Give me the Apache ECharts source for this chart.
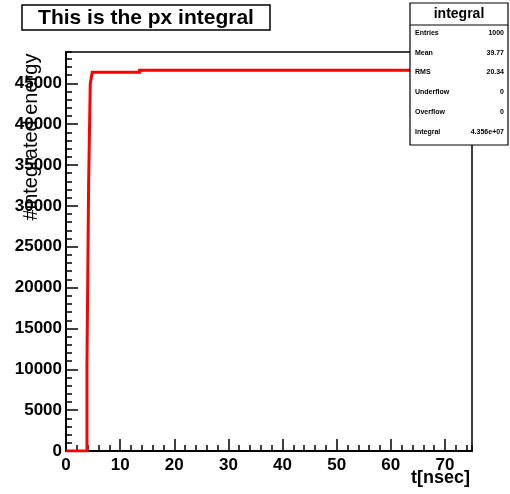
<!DOCTYPE html>
<html>
<head>
<meta charset="utf-8">
<script src="https://cdn.jsdelivr.net/npm/echarts@6/dist/echarts.min.js"></script>
<style>html,body{margin:0;padding:0;background:#fff;}#c{width:510px;height:494px;}</style>
</head>
<body>
<div id="c"></div>
<script>
// Histogram step edges (t in nsec) and integrated values
const edges = [0, 3.87, 4.18, 4.48, 4.84, 13.6, 75];
const values = [0, 10400, 32800, 44900, 46350, 46600, 46600];
const yTickLabels = [0, 5000, 10000, 15000, 20000, 25000, 30000, 35000, 40000, 45000];
const xTickLabels = [0, 10, 20, 30, 40, 50, 60, 70];
const statNames = ['Entries', 'Mean', 'RMS', 'Underflow', 'Overflow', 'Integral'];
const statValues = ['1000', '39.77', '20.34', '0', '0', '4.356e+07'];
const titleText = 'This is the px integral';
const statTitle = 'integral';
const xTitle = 't[nsec]';
const yTitle = '#integrated energy';

const FONT = "'Liberation Sans', Arial, sans-serif";
const chart = echarts.init(document.getElementById('c'), null, {renderer: 'canvas'});
const data = edges.map((e, i) => [e, values[i]]);
const XMAX = 75, YMAX = 48830;

const labelStyle = {color: '#000', fontSize: 17, fontWeight: 'bold', fontFamily: FONT};

const statGraphics = [];
const rowY = [34, 54, 73, 93, 113, 133];
statNames.forEach((n, i) => {
  statGraphics.push({type: 'text', left: 415, top: rowY[i] - 4, z: 101,
    style: {text: n, fill: '#000', font: 'bold 7px ' + FONT}});
  statGraphics.push({type: 'text', right: 6, top: rowY[i] - 4, z: 101,
    style: {text: statValues[i], fill: '#000', font: 'bold 7px ' + FONT, textAlign: 'right'}});
});

chart.setOption({
  animation: false,
  backgroundColor: '#fff',
  grid: {left: 66, right: 38, top: 52, bottom: 43, show: true, borderColor: '#000', borderWidth: 1.5, backgroundColor: 'transparent'},
  xAxis: [
    {type: 'value', min: 0, max: XMAX, interval: 2, position: 'bottom',
     axisLine: {show: true, onZero: false, lineStyle: {color: '#000', width: 2}},
     axisTick: {show: true, inside: true, length: 6, lineStyle: {color: '#000', width: 1.5}},
     axisLabel: {show: false}, splitLine: {show: false}},
    {type: 'value', min: 0, max: XMAX, interval: 10, position: 'bottom',
     axisLine: {show: false, onZero: false},
     axisTick: {show: true, inside: true, length: 12, lineStyle: {color: '#000', width: 1.5}},
     axisLabel: Object.assign({margin: 6, showMaxLabel: false,
       formatter: v => xTickLabels.indexOf(v) >= 0 ? String(v) : ''}, labelStyle),
     splitLine: {show: false}}
  ],
  yAxis: [
    {type: 'value', min: 0, max: YMAX, interval: 1000, position: 'left',
     axisLine: {show: true, onZero: false, lineStyle: {color: '#000', width: 2}},
     axisTick: {show: true, inside: true, length: 6, lineStyle: {color: '#000', width: 1.5}},
     axisLabel: {show: false}, splitLine: {show: false}},
    {type: 'value', min: 0, max: YMAX, interval: 5000, position: 'left',
     axisLine: {show: false, onZero: false},
     axisTick: {show: true, inside: true, length: 12, lineStyle: {color: '#000', width: 1.5}},
     axisLabel: Object.assign({margin: 4, showMaxLabel: false,
       formatter: v => yTickLabels.indexOf(v) >= 0 ? String(v) : ''}, labelStyle),
     splitLine: {show: false}}
  ],
  series: [{
    type: 'line', xAxisIndex: 0, yAxisIndex: 0, step: 'end', data: data,
    showSymbol: false, symbol: 'none', clip: true,
    lineStyle: {color: '#ff0000', width: 3, join: 'miter'}, z: 3
  }],
  graphic: [
    {type: 'rect', shape: {x: 22, y: 5, width: 248, height: 25}, z: 100,
     style: {fill: '#fff', stroke: '#000', lineWidth: 1.5}},
    {type: 'text', x: 146, y: 18, z: 101,
     style: {text: titleText, fill: '#000', font: 'bold 21px ' + FONT, textAlign: 'center', textVerticalAlign: 'middle'}},
    {type: 'rect', shape: {x: 410, y: 3, width: 98, height: 142}, z: 100,
     style: {fill: '#fff', stroke: '#000', lineWidth: 1.2}},
    {type: 'line', shape: {x1: 410, y1: 25, x2: 508, y2: 25}, z: 101,
     style: {stroke: '#000', lineWidth: 1}},
    {type: 'text', x: 459, y: 14, z: 101,
     style: {text: statTitle, fill: '#000', font: 'bold 14px ' + FONT, textAlign: 'center', textVerticalAlign: 'middle'}},
    ...statGraphics,
    {type: 'text', x: 470, y: 478, z: 101,
     style: {text: xTitle, fill: '#000', font: 'bold 18px ' + FONT, textAlign: 'right', textVerticalAlign: 'middle'}},
    {type: 'text', x: 31, y: 137, rotation: Math.PI / 2, z: 101,
     style: {text: yTitle, fill: '#000', font: '20px ' + FONT, textAlign: 'center', textVerticalAlign: 'middle'}}
  ]
});
</script>
</body>
</html>
